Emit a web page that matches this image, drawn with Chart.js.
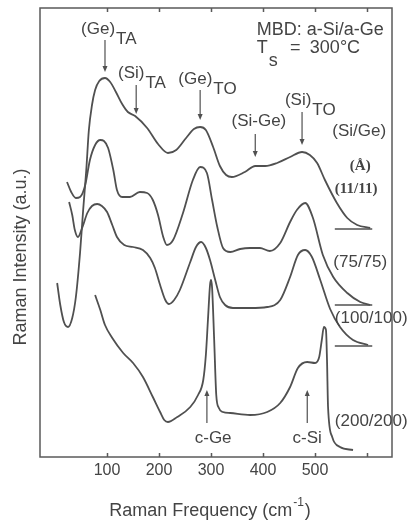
<!DOCTYPE html>
<html lang="en">
<head>
<meta charset="UTF-8">
<title>Raman spectra a-Si/a-Ge</title>
<style>
  html, body { margin: 0; padding: 0; background: #fff; }
  canvas { display: block; }
</style>
</head>
<body>
<canvas id="chartId" width="410" height="520"></canvas>
<script src="https://cdn.jsdelivr.net/npm/chart.js@4.4.1/dist/chart.umd.min.js"></script>
<script>
// spectra: Raman shift (cm-1) and intensity (a.u., each sample offset)
const shift11 = [4, 10, 17, 25, 33, 40, 48, 54, 60, 65, 71, 77, 85, 96, 106, 117, 129, 140, 154, 177, 198, 217, 233, 252, 267, 279, 290, 304, 317, 329, 340, 365, 385, 404, 427, 452, 475, 490, 504, 519, 542, 562, 581, 606];
const int11 = [174, 152, 135, 130, 139, 160, 204, 247, 287, 327, 352, 367, 376, 379, 375, 365, 353, 345, 341, 329, 313, 304, 307, 319, 328, 330, 327, 310, 291, 282, 280, 285, 291, 291, 294, 300, 305, 302, 294, 277, 254, 239, 232, 229];

const shift75 = [23, 31, 40, 48, 58, 67, 77, 87, 94, 102, 112, 119, 129, 144, 163, 177, 188, 198, 208, 215, 227, 246, 265, 279, 292, 302, 312, 323, 337, 356, 375, 394, 413, 433, 452, 465, 481, 496, 515, 535, 562, 587, 606];
const int75 = [275, 265, 259, 260, 272, 297, 312, 317, 316, 309, 287, 267, 260, 260, 265, 264, 257, 242, 220, 212, 217, 244, 277, 290, 284, 257, 230, 209, 205, 208, 209, 209, 206, 214, 235, 247, 254, 239, 202, 180, 164, 155, 152];

const shift100 = [27, 33, 38, 44, 52, 62, 71, 81, 90, 100, 110, 119, 133, 150, 169, 183, 192, 202, 212, 219, 229, 240, 260, 271, 281, 290, 298, 308, 317, 327, 342, 375, 408, 433, 452, 467, 481, 494, 510, 529, 548, 573, 602];
const int100 = [255, 242, 227, 220, 229, 244, 251, 253, 251, 245, 232, 220, 212, 210, 207, 199, 189, 172, 157, 153, 157, 167, 195, 210, 215, 209, 197, 177, 160, 152, 149, 149, 150, 157, 180, 202, 207, 200, 177, 148, 130, 117, 112];

const shift200 = [77, 87, 96, 110, 131, 150, 169, 188, 202, 210, 217, 235, 260, 275, 285, 290, 294, 298, 300, 302, 306, 310, 315, 323, 337, 375, 408, 433, 452, 467, 485, 500, 508, 513, 517, 521, 523, 525, 533, 548, 573];
const int200 = [162, 147, 132, 119, 104, 94, 80, 60, 45, 37, 35, 40, 50, 62, 77, 102, 137, 172, 177, 169, 117, 62, 49, 45, 44, 42, 45, 54, 70, 89, 95, 94, 100, 117, 130, 127, 97, 50, 20, 10, 7];

// short baseline marks at the high-frequency end
const baseShift = [538, 610];
const baseLevels = [228, 152, 111];

const xTicks = [100, 200, 300, 400, 500, 600];
const xTickLabels = ['100', '200', '300', '400', '500', ''];

const ink = '#505050';
const sans = '"Liberation Sans", Arial, sans-serif';

// peak labels and arrows, in data coordinates
const peakLabels = [
  { text: '(Ge)', sub: 'TA', x: 50, y: 428 },
  { text: '(Si)', sub: 'TA', x: 121, y: 384 },
  { text: '(Ge)', sub: 'TO', x: 237, y: 378 },
  { text: '(Si)', sub: 'TO', x: 442, y: 357 },
  { text: '(Si-Ge)', x: 392, y: 336, center: true },
  { text: '(Si/Ge)', x: 585, y: 326, center: true },
  { text: '(Å)', x: 587, y: 291, center: true, serif: true },
  { text: '(11/11)', x: 579, y: 268, center: true, serif: true },
  { text: '(75/75)', x: 587, y: 195, center: true },
  { text: '(100/100)', x: 608, y: 139, center: true },
  { text: '(200/200)', x: 608, y: 36, center: true },
  { text: 'c-Ge', x: 304, y: 19, center: true },
  { text: 'c-Si', x: 485, y: 19, center: true },
  { text: 'MBD: a-Si/a-Ge', x: 388, y: 427, big: true },
  { text: 'T', sub: 's', x: 388, y: 409, subDrop: 13, big: true },
  { text: '=', x: 462, y: 409, center: true, big: true },
  { text: '300°C', x: 490, y: 409, big: true }
];
const arrows = [
  { x: 96, from: 417, to: 385 },
  { x: 156, from: 372, to: 343 },
  { x: 279, from: 367, to: 337 },
  { x: 385, from: 323, to: 300 },
  { x: 475, from: 345, to: 312 },
  { x: 292, from: 34, to: 67 },
  { x: 485, from: 34, to: 67 }
];

const toPoints = (xs, ys) => xs.map((v, i) => ({ x: v, y: ys[i] }));

const spectrum = (label, xs, ys) => ({
  label: label,
  data: toPoints(xs, ys),
  borderColor: ink,
  borderWidth: 1.8,
  pointRadius: 0,
  fill: false,
  cubicInterpolationMode: 'monotone'
});

const datasets = [
  spectrum('11/11', shift11, int11),
  spectrum('75/75', shift75, int75),
  spectrum('100/100', shift100, int100),
  spectrum('200/200', shift200, int200)
];
baseLevels.forEach((lvl, i) => {
  datasets.push({
    label: 'base' + i,
    data: baseShift.map(v => ({ x: v, y: lvl })),
    borderColor: ink,
    borderWidth: 1.5,
    pointRadius: 0
  });
});

const decor = {
  id: 'decor',
  afterDatasetsDraw(chart) {
    const { ctx, chartArea: a, scales: { x, y } } = chart;
    ctx.save();
    ctx.strokeStyle = '#5a5a5a';
    ctx.lineWidth = 1.5;
    ctx.strokeRect(a.left, a.top, a.right - a.left, a.bottom - a.top);

    ctx.beginPath();
    xTicks.forEach(v => {
      const px = Math.round(x.getPixelForValue(v)) + 0.5;
      ctx.moveTo(px, a.bottom); ctx.lineTo(px, a.bottom - 4);
      ctx.moveTo(px, a.top); ctx.lineTo(px, a.top + 4);
    });
    ctx.stroke();

    ctx.fillStyle = '#444';
    ctx.font = '16px ' + sans;
    ctx.textAlign = 'center';
    ctx.textBaseline = 'middle';
    xTicks.forEach((v, i) => ctx.fillText(xTickLabels[i], x.getPixelForValue(v), a.bottom + 14));

    // arrows
    ctx.strokeStyle = ink;
    ctx.fillStyle = ink;
    ctx.lineWidth = 1.2;
    arrows.forEach(ar => {
      const px = x.getPixelForValue(ar.x);
      const y0 = y.getPixelForValue(ar.from);
      const y1 = y.getPixelForValue(ar.to);
      const dir = y1 > y0 ? 1 : -1;
      ctx.beginPath();
      ctx.moveTo(px, y0); ctx.lineTo(px, y1 - dir * 5);
      ctx.stroke();
      ctx.beginPath();
      ctx.moveTo(px, y1);
      ctx.lineTo(px - 2.5, y1 - dir * 6);
      ctx.lineTo(px + 2.5, y1 - dir * 6);
      ctx.closePath();
      ctx.fill();
    });

    // labels
    ctx.fillStyle = '#444';
    peakLabels.forEach(l => {
      if (l.serif) ctx.font = 'bold 15px "Liberation Serif", serif';
      else ctx.font = (l.big ? '18px ' : '17px ') + sans;
      ctx.textAlign = l.center ? 'center' : 'left';
      ctx.textBaseline = 'middle';
      const px = x.getPixelForValue(l.x);
      const py = y.getPixelForValue(l.y);
      ctx.fillText(l.text, px, py);
      if (l.sub) {
        const w = ctx.measureText(l.text).width;
        ctx.textAlign = 'left';
        ctx.fillText(l.sub, px + w + 1, py + (l.subDrop || 10));
      }
    });

    // axis titles
    ctx.font = '18px ' + sans;
    ctx.textBaseline = 'alphabetic';
    ctx.textAlign = 'left';
    const t1 = 'Raman Frequency (cm';
    const w1 = ctx.measureText(t1).width;
    ctx.font = '12px ' + sans;
    const wSup = ctx.measureText('-1').width;
    ctx.font = '18px ' + sans;
    const wEnd = ctx.measureText(')').width;
    let sx = 209 - (w1 + wSup + wEnd) / 2;
    ctx.fillText(t1, sx, 516);
    ctx.font = '12px ' + sans;
    ctx.fillText('-1', sx + w1 + 1, 506);
    ctx.font = '18px ' + sans;
    ctx.fillText(')', sx + w1 + wSup + 2, 516);

    ctx.translate(21, 257);
    ctx.rotate(-Math.PI / 2);
    ctx.textAlign = 'center';
    ctx.textBaseline = 'middle';
    ctx.fillText('Raman Intensity (a.u.)', 0, 0);
    ctx.restore();
  }
};

new Chart(document.getElementById('chartId').getContext('2d'), {
  type: 'line',
  data: { datasets: datasets },
  options: {
    responsive: false,
    animation: false,
    layout: { padding: { left: 40, top: 8, right: 18, bottom: 63 } },
    plugins: { legend: { display: false }, tooltip: { enabled: false } },
    scales: {
      x: { type: 'linear', min: -29, max: 648, display: false },
      y: { type: 'linear', min: 0, max: 449, display: false }
    }
  },
  plugins: [decor]
});
</script>
</body>
</html>
